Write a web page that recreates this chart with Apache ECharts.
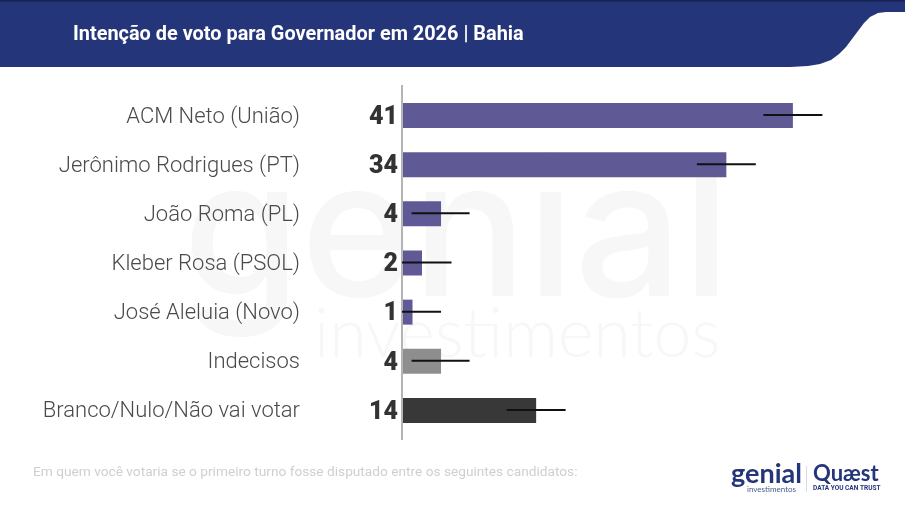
<!DOCTYPE html>
<html>
<head>
<meta charset="utf-8">
<style>
  html, body { margin: 0; padding: 0; background: #fff; }
  #chart { width: 905px; height: 510px; }
</style>
<script src="https://cdn.jsdelivr.net/npm/echarts@6/dist/echarts.min.js"></script>
</head>
<body>
<div id="chart"></div>
<script>
const categories = ['ACM Neto (União)', 'Jerônimo Rodrigues (PT)', 'João Roma (PL)', 'Kleber Rosa (PSOL)', 'José Aleluia (Novo)', 'Indecisos', 'Branco/Nulo/Não vai votar']
const values = [41, 34, 4, 2, 1, 4, 14]
const errorLow = [37.9, 30.9, 0.9, -0.1, -0.1, 0.9, 10.9]
const errorHigh = [44.1, 37.1, 7, 5.1, 4, 7, 17.1]
const barColors = ['#5f5a96', '#5f5a96', '#5f5a96', '#5f5a96', '#5f5a96', '#8e8e8e', '#383838']

const navy = '#25357a'
const font = 'Roboto'

const headerOutline = [[0, 0], [905, 0], [905, 12], [886, 12], [878, 13], [870, 17], [864, 23], [858, 31], [852, 39], [846, 47], [839, 54], [831, 60], [820, 64], [808, 66], [790, 67], [0, 67]]

const chart = echarts.init(document.getElementById('chart'))

chart.setOption({
  animation: false,
  backgroundColor: '#fff',
  grid: { left: 403, top: 91, width: 475.5, height: 344 },
  xAxis: { type: 'value', min: 0, max: 50, show: false },
  yAxis: {
    type: 'category',
    data: categories,
    inverse: true,
    axisLine: { show: false },
    axisTick: { show: false },
    axisLabel: { margin: 103, fontFamily: font, fontWeight: 300, fontSize: 22, color: '#4a4a4a', verticalAlign: 'top', lineHeight: 3 }
  },
  series: [
    {
      type: 'bar',
      barWidth: 25,
      data: values.map((v, i) => ({ value: v, itemStyle: { color: barColors[i] } })),
      label: {
        show: true,
        position: 'left',
        distance: 4,
        offset: [-1, 2],
        fontFamily: font,
        fontWeight: 900,
        fontSize: 25,
        color: '#333'
      },
      z: 2
    },
    {
      type: 'custom',
      data: errorLow.map((low, i) => [low, errorHigh[i], i]),
      encode: { x: [0, 1], y: 2 },
      clip: false,
      silent: true,
      z: 3,
      renderItem: (params, api) => {
        const a = api.coord([api.value(0), api.value(2)])
        const b = api.coord([api.value(1), api.value(2)])
        return {
          type: 'line',
          shape: { x1: a[0], y1: a[1] - 0.5, x2: b[0], y2: b[1] - 0.5 },
          style: { stroke: '#111', lineWidth: 2 }
        }
      }
    }
  ],
  graphic: [
    // marca d'agua
    { type: 'text', z: -1, left: 183, top: 144, style: { text: 'genial', font: '500 190px Inter', fill: '#f7f7f7' } },
    { type: 'text', z: -1, left: 314, top: 301, style: { text: 'investimentos', font: '300 68px Lato', fill: '#f7f7f7' } },
    // cabecalho
    { type: 'polygon', z: 0, shape: { points: headerOutline }, style: { fill: navy } },
    { type: 'rect', z: 1, shape: { x: 0, y: 0, width: 905, height: 1.5 }, style: { fill: '#16224f' } },
    { type: 'text', z: 1, left: 73, top: 25, style: { text: 'Intenção de voto para Governador em 2026 | Bahia', font: '700 19.9px Roboto', fill: '#fff' } },
    // eixo
    { type: 'rect', z: 1, shape: { x: 401, y: 85, width: 2, height: 355 }, style: { fill: '#b4b4b4' } },
    // rodape
    { type: 'text', z: 1, left: 33, top: 466, style: { text: 'Em quem você votaria se o primeiro turno fosse disputado entre os seguintes candidatos:', font: '400 13.7px Roboto', fill: '#cfcfcf' } },
    { type: 'text', z: 1, left: 731, top: 461, style: { text: 'genial', font: '700 27px Lato', fill: navy } },
    { type: 'text', z: 1, left: 747, top: 485, style: { text: 'investimentos', font: '400 8px Lato', fill: '#4a5a90' } },
    { type: 'rect', z: 1, shape: { x: 806, y: 466, width: 1, height: 26 }, style: { fill: '#d8dbe6' } },
    { type: 'text', z: 1, left: 813, top: 463, style: { text: 'Quæst', font: '700 22px Lato', fill: navy } },
    { type: 'text', z: 1, left: 813, top: 485, style: { text: 'DATA YOU CAN TRUST', font: '700 6.5px Roboto', fill: navy } }
  ]
})
</script>
</body>
</html>
